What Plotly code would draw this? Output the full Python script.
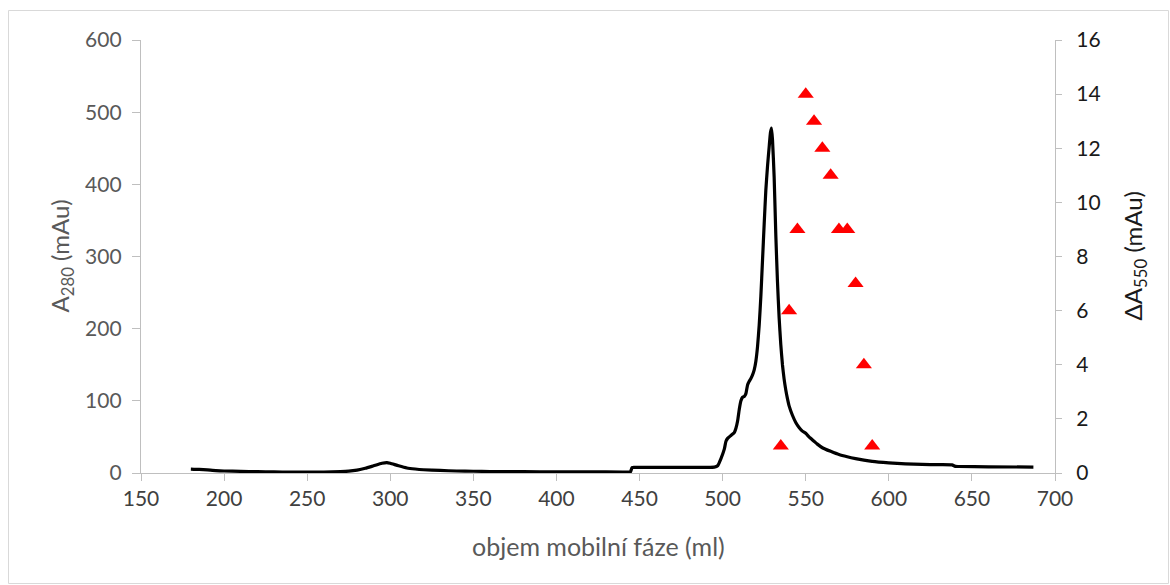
import plotly.graph_objects as go

# A280 chromatogram trace (volume in ml, absorbance in mAu)
volume_ml = [180, 185, 190, 195, 200, 210, 220, 230, 240, 250, 260, 270, 275, 280,
             285, 290, 295, 298, 300, 305, 310, 315, 320, 330, 340, 350, 360, 380,
             400, 420, 440, 443, 444.5, 445.5, 447, 450, 470, 490, 495, 497, 499, 501, 502,
             503, 505, 507, 508, 509, 510, 511, 512, 513, 514, 515, 516, 517, 518,
             519, 520, 521, 522, 523, 524, 525, 526, 527, 528, 528.8, 529.4, 530,
             531, 532, 533, 534, 535, 536, 537, 538, 539, 540, 542, 544, 546, 548,
             550, 552, 555, 557, 560, 565, 570, 575, 580, 585, 590, 600, 605, 610,
             620, 630, 638, 640, 642, 660, 687]
a280_mau = [5.5, 5.0, 4.2, 3.3, 2.8, 2.2, 1.8, 1.5, 1.3, 1.2, 1.3, 1.8, 2.5, 4.0,
            6.5, 10.0, 13.5, 14.5, 13.5, 10.0, 7.0, 5.5, 4.5, 3.5, 2.8, 2.4, 2.1, 1.8,
            1.6, 1.5, 1.4, 1.4, 1.4, 7.5, 7.7, 7.8, 7.8, 7.9, 8.2, 10, 20, 33, 44,
            48, 52, 56, 62, 72, 88, 100, 105, 106, 110, 122, 127, 131, 136,
            143, 155, 175, 205, 245, 295, 345, 392, 425, 452, 472, 478, 462,
            410, 330, 265, 215, 178, 150, 130, 115, 103, 93, 80, 70, 63, 58,
            55, 50, 44, 40, 35, 30, 25.5, 22.5, 20, 17.8, 16, 14, 13.3, 12.7,
            12.0, 11.5, 11.2, 9.2, 9.0, 8.6, 8.2]

# ΔA550 of collected fractions
fraction_ml = [535, 540, 545, 550, 555, 560, 565, 570, 575, 580, 585, 590]
delta_a550 = [1, 6, 9, 14, 13, 12, 11, 9, 9, 7, 4, 1]

FONT = "Lato"
GRID = "#bfbfbf"

fig = go.Figure()
fig.add_trace(go.Scatter(
    x=volume_ml, y=a280_mau, mode="lines",
    line=dict(color="black", width=3.2, shape="spline", smoothing=0.5),
    showlegend=False,
))
fig.add_trace(go.Scatter(
    x=fraction_ml, y=delta_a550, mode="markers", yaxis="y2",
    marker=dict(symbol="triangle-up", color="#ff0000", size=14),
    showlegend=False,
))

fig.update_layout(
    width=1170, height=585,
    margin=dict(l=141, r=115, t=40, b=112),
    paper_bgcolor="white", plot_bgcolor="white",
    font=dict(family=FONT, size=21, color="#595959"),
    xaxis=dict(
        range=[150, 700], tick0=150, dtick=50, showgrid=False,
        showline=True, linecolor=GRID, linewidth=1.3,
        ticks="outside", ticklen=7, tickcolor=GRID, tickwidth=1.3,
        tickfont=dict(color="#404040", size=21), zeroline=False,
    ),
    yaxis=dict(
        range=[0, 600], dtick=100, showgrid=False,
        showline=True, linecolor=GRID, linewidth=1.3,
        ticks="outside", ticklen=8, tickcolor=GRID, tickwidth=1.3,
        tickfont=dict(color="#595959", size=21), zeroline=False,
        ticklabelstandoff=6,
    ),
    yaxis2=dict(
        range=[0, 16], dtick=2, overlaying="y", side="right", showgrid=False,
        showline=True, linecolor=GRID, linewidth=1.3,
        ticks="outside", ticklen=6, tickcolor=GRID, tickwidth=1.3,
        tickfont=dict(color="#1a1a1a", size=21), zeroline=False,
        ticklabelstandoff=10,
    ),
    shapes=[dict(
        type="rect", xref="paper", yref="paper",
        x0=(8.5 - 141) / 914, x1=(1168.5 - 141) / 914,
        y0=(473 - 583.5) / 433, y1=(473 - 10.5) / 433,
        line=dict(color="#d9d9d9", width=1), fillcolor="rgba(0,0,0,0)",
        layer="below",
    )],
    annotations=[
        dict(text="objem mobilní fáze (ml)", xref="paper", yref="paper",
             x=0.5, y=(473 - 546) / 433, showarrow=False,
             font=dict(size=25, color="#595959"), yanchor="middle"),
        dict(text="A<sub>280</sub> (mAu)", xref="paper", yref="paper",
             x=(61 - 141) / 914, y=0.5, textangle=-90, showarrow=False,
             font=dict(size=24, color="#595959"), xanchor="center"),
        dict(text="ΔA<sub>550</sub> (mAu)", xref="paper", yref="paper",
             x=(1134 - 141) / 914, y=0.5, textangle=-90, showarrow=False,
             font=dict(size=24, color="#1a1a1a"), xanchor="center"),
    ],
)

fig.write_html("out.html")
